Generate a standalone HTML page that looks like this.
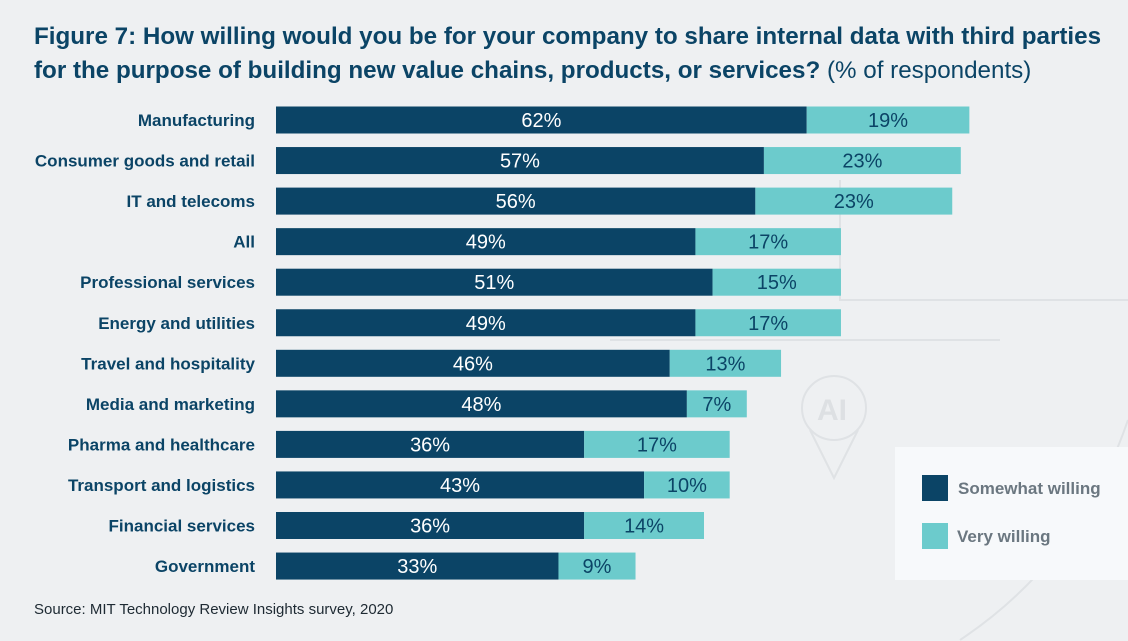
<!DOCTYPE html>
<html><head><meta charset="utf-8"><style>
body{margin:0;background:#eef0f2;}
svg{display:block;font-family:"Liberation Sans",sans-serif;}
</style></head><body>
<svg id="chart" width="1128" height="641">
<rect width="1128" height="641" fill="#eef0f2"/>
<g fill="none" stroke="#dfe2e5" stroke-width="2">
<path d="M610 340 H1000"/><path d="M840 180 V300 H1128"/><circle cx="834" cy="408" r="32"/><path d="M810 430 L834 478 L858 430"/><path d="M960 640 Q1080 560 1128 420"/>
</g>
<text x="817" y="420" font-size="30" font-weight="bold" fill="#dde0e3">AI</text>
<text x="34" y="44" font-size="24.2" font-weight="bold" fill="#0b4466">Figure 7: How willing would you be for your company to share internal data with third parties</text>
<text x="34" y="78" font-size="24.2" fill="#0b4466"><tspan font-weight="bold">for the purpose of building new value chains, products, or services?</tspan> (% of respondents)</text>
<g id="bars"></g>
<rect x="895" y="447" width="233" height="133" fill="#f7f9fb"/>
<rect x="922" y="475" width="26" height="26" fill="#0b4466"/>
<text x="958" y="494" font-size="17" font-weight="bold" fill="#6b7780">Somewhat willing</text>
<rect x="922" y="523" width="26" height="26" fill="#6ccbcc"/>
<text x="957" y="542" font-size="17" font-weight="bold" fill="#6b7780">Very willing</text>
<text x="34" y="614" font-size="15" fill="#1e2a33">Source: MIT Technology Review Insights survey, 2020</text>
</svg>
<script>
const categories=["Manufacturing","Consumer goods and retail","IT and telecoms","All","Professional services","Energy and utilities","Travel and hospitality","Media and marketing","Pharma and healthcare","Transport and logistics","Financial services","Government"];
const somewhat=[62,57,56,49,51,49,46,48,36,43,36,33];
const very=[19,23,23,17,15,17,13,7,17,10,14,9];
const NS="http://www.w3.org/2000/svg";
const x0=276,pxPer=8.56,y0=120,step=40.55,bh=27;
const xs=v=>v*pxPer;
const g=document.getElementById('bars');
function mk(tag,attrs){const e=document.createElementNS(NS,tag);for(const k in attrs)e.setAttribute(k,attrs[k]);g.appendChild(e);return e;}
categories.forEach((c,i)=>{
  const cy=y0+i*step;
  const lab=mk('text',{x:255,y:cy+6,'text-anchor':'end','font-size':17,'font-weight':'bold',fill:'#0b4466'});
  lab.textContent=c;
  
  
  const w1=xs(somewhat[i]);
  const b1=mk('rect',{x:x0,y:cy-bh/2,width:w1,height:bh,fill:'#0b4466'});
  
  
  const w2=xs(very[i]);
  const b2=mk('rect',{x:x0+w1,y:cy-bh/2,width:w2,height:bh,fill:'#6ccbcc'});
  
  
  const t1=mk('text',{x:x0+w1/2,y:cy+7,'text-anchor':'middle','font-size':20,fill:'#ffffff'});
  t1.textContent=somewhat[i]+'%';
  
  
  const t2=mk('text',{x:x0+w1+w2/2,y:cy+7,'text-anchor':'middle','font-size':20,fill:'#0b4466'});
  t2.textContent=very[i]+'%';
  
  
});
</script>
</body></html>
